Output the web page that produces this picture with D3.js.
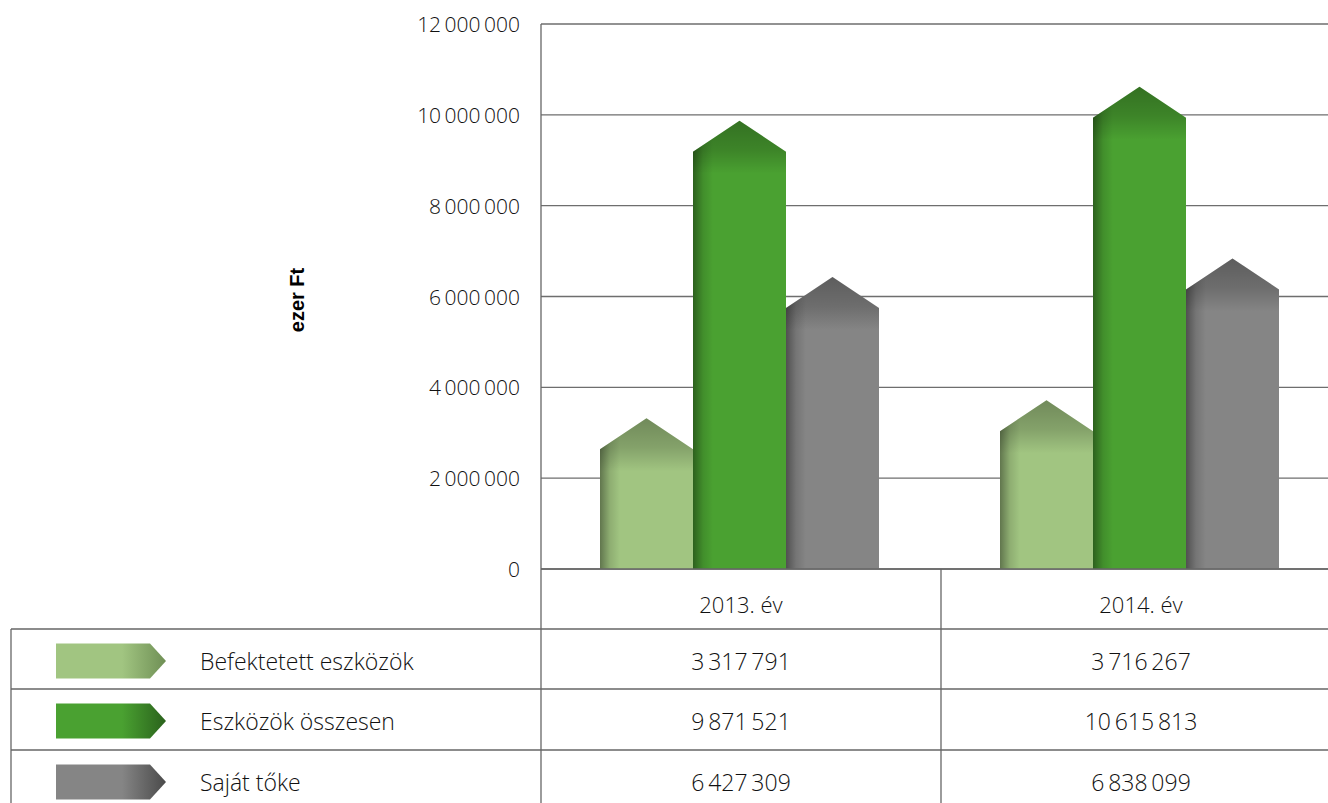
<!DOCTYPE html>
<html>
<head>
<meta charset="utf-8">
<script src="https://cdn.jsdelivr.net/npm/d3@7"></script>
<style>
  body { margin: 0; background: #fff; }
  text { font-family: "Open Sans", sans-serif; font-weight: 300; fill: #111; }
</style>
</head>
<body>
<svg width="1328" height="803"></svg>
<script>
// values (ezer Ft)
var years = ["2013. év", "2014. év"];
var seriesNames = ["Befektetett eszközök", "Eszközök összesen", "Saját tőke"];
var befektetett = [3317791, 3716267];
var osszesen = [9871521, 10615813];
var sajat = [6427309, 6838099];
var yTicks = [0, 2000000, 4000000, 6000000, 8000000, 10000000, 12000000];

var colors = ["#a1c581", "#4aa131", "#858585"];
var darks = ["#6f8f55", "#2a621c", "#4a4a4a"];

var rows = [befektetett, osszesen, sajat];

var svg = d3.select("svg");
var MARGIN = {top: 24, left: 541, zero: 569};

var loc = d3.formatLocale({decimal: ",", thousands: "\u2009", grouping: [3], currency: ["", " Ft"]});
var fmt = loc.format(",d");

var y = d3.scaleLinear().domain([0, 12000000]).range([MARGIN.zero, MARGIN.top]);
var x = d3.scaleBand().domain(years).range([541, 1341]);
var xs = d3.scaleBand().domain(d3.range(3)).range([59, 338]);

var defs = svg.append("defs");
var HEAD = 31;

// grid lines
svg.append("g").selectAll("line")
  .data(yTicks)
  .join("line")
    .attr("x1", 541).attr("x2", 1328)
    .attr("y1", d => y(d)).attr("y2", d => y(d))
    .attr("stroke", "#6e6e6e").attr("stroke-width", 1.3);

// y tick labels
svg.append("g").selectAll("text")
  .data(yTicks)
  .join("text")
    .attr("x", 520).attr("y", d => y(d) + 8)
    .attr("text-anchor", "end")
    .style("font-size", "21px")
    .text(d => fmt(d));

// axis title
svg.append("text")
  .attr("transform", "translate(304,300) rotate(-90)")
  .attr("text-anchor", "middle")
  .style("font-family", "Liberation Sans, Arial, sans-serif")
  .style("font-weight", "bold")
  .style("font-size", "20px")
  .style("fill", "#000")
  .text("ezer Ft");

// bars
var bars = [];
rows.forEach(function(vals, s) {
  vals.forEach(function(v, i) {
    bars.push({s: s, cat: years[i], v: v, id: "b" + s + "_" + i});
  });
});

bars.forEach(function(b) {
  var x0 = x(b.cat) + xs(b.s), w = xs.bandwidth();
  var top = y(b.v);
  var lg = defs.append("linearGradient").attr("id", b.id + "L")
    .attr("gradientUnits", "userSpaceOnUse")
    .attr("x1", x0).attr("x2", x0 + 20).attr("y1", 0).attr("y2", 0);
  lg.append("stop").attr("offset", 0).attr("stop-color", "#000").attr("stop-opacity", 0.4);
  lg.append("stop").attr("offset", 0.5).attr("stop-color", "#000").attr("stop-opacity", 0.12);
  lg.append("stop").attr("offset", 1).attr("stop-color", "#000").attr("stop-opacity", 0);
  var tg = defs.append("linearGradient").attr("id", b.id + "T")
    .attr("gradientUnits", "userSpaceOnUse")
    .attr("x1", 0).attr("x2", 0).attr("y1", top).attr("y2", top + HEAD + 22);
  tg.append("stop").attr("offset", 0).attr("stop-color", "#000").attr("stop-opacity", 0.3);
  tg.append("stop").attr("offset", 0.55).attr("stop-color", "#000").attr("stop-opacity", 0.18);
  tg.append("stop").attr("offset", 1).attr("stop-color", "#000").attr("stop-opacity", 0);
});

var barPath = function(b) {
  var x0 = x(b.cat) + xs(b.s), w = xs.bandwidth();
  var top = y(b.v), base = y(0);
  return "M" + x0 + "," + base + "L" + x0 + "," + (top + HEAD) + "L" + (x0 + w / 2) + "," + top +
    "L" + (x0 + w) + "," + (top + HEAD) + "L" + (x0 + w) + "," + base + "Z";
};

var bg = svg.append("g").selectAll("g")
  .data(bars)
  .join("g");
bg.append("path").attr("d", barPath).attr("fill", d => colors[d.s]);
bg.append("path").attr("d", barPath).attr("fill", d => "url(#" + d.id + "T)");
bg.append("path").attr("d", barPath).attr("fill", d => "url(#" + d.id + "L)");

// table lines
var T = svg.append("g").attr("stroke", "#666").attr("stroke-width", 1.3);
T.append("line").attr("x1", 541).attr("x2", 541).attr("y1", 24).attr("y2", 803);
T.append("line").attr("x1", 941).attr("x2", 941).attr("y1", 569).attr("y2", 803);
T.append("line").attr("x1", 11).attr("x2", 11).attr("y1", 629).attr("y2", 803);
[629, 689, 750].forEach(function(yy) {
  T.append("line").attr("x1", 11).attr("x2", 1328).attr("y1", yy).attr("y2", yy);
});
svg.append("line").attr("x1", 541).attr("x2", 1328).attr("y1", 569).attr("y2", 569)
  .attr("stroke", "#666").attr("stroke-width", 1.3);

// year header
svg.append("g").selectAll("text")
  .data(years)
  .join("text")
    .attr("x", d => x(d) + x.bandwidth() / 2)
    .attr("y", 613)
    .attr("text-anchor", "middle")
    .style("font-size", "22px")
    .text(d => d);

var rowY = [659, 719, 780];

// legend icons
seriesNames.forEach(function(name, s) {
  var g = defs.append("linearGradient").attr("id", "leg" + s)
    .attr("x1", 0).attr("x2", 1).attr("y1", 0).attr("y2", 0);
  g.append("stop").attr("offset", 0).attr("stop-color", colors[s]);
  g.append("stop").attr("offset", 0.6).attr("stop-color", colors[s]);
  g.append("stop").attr("offset", 1).attr("stop-color", darks[s]);
  var cy = rowY[s] + 2, h = 35;
  svg.append("path")
    .attr("d", "M56," + (cy - h / 2) + "L150," + (cy - h / 2) + "L166," + cy +
      "L150," + (cy + h / 2) + "L56," + (cy + h / 2) + "Z")
    .attr("fill", "url(#leg" + s + ")");
  svg.append("text")
    .attr("x", 200).attr("y", rowY[s] + 11)
    .style("font-size", "23px")
    .text(name);
});

// values in table
rows.forEach(function(vals, s) {
  svg.append("g").selectAll("text")
    .data(vals)
    .join("text")
      .attr("x", (d, i) => x(years[i]) + 200)
      .attr("y", rowY[s] + 11)
      .attr("text-anchor", "middle")
      .style("font-size", "23px")
      .text(d => fmt(d));
});
</script>
</body>
</html>
